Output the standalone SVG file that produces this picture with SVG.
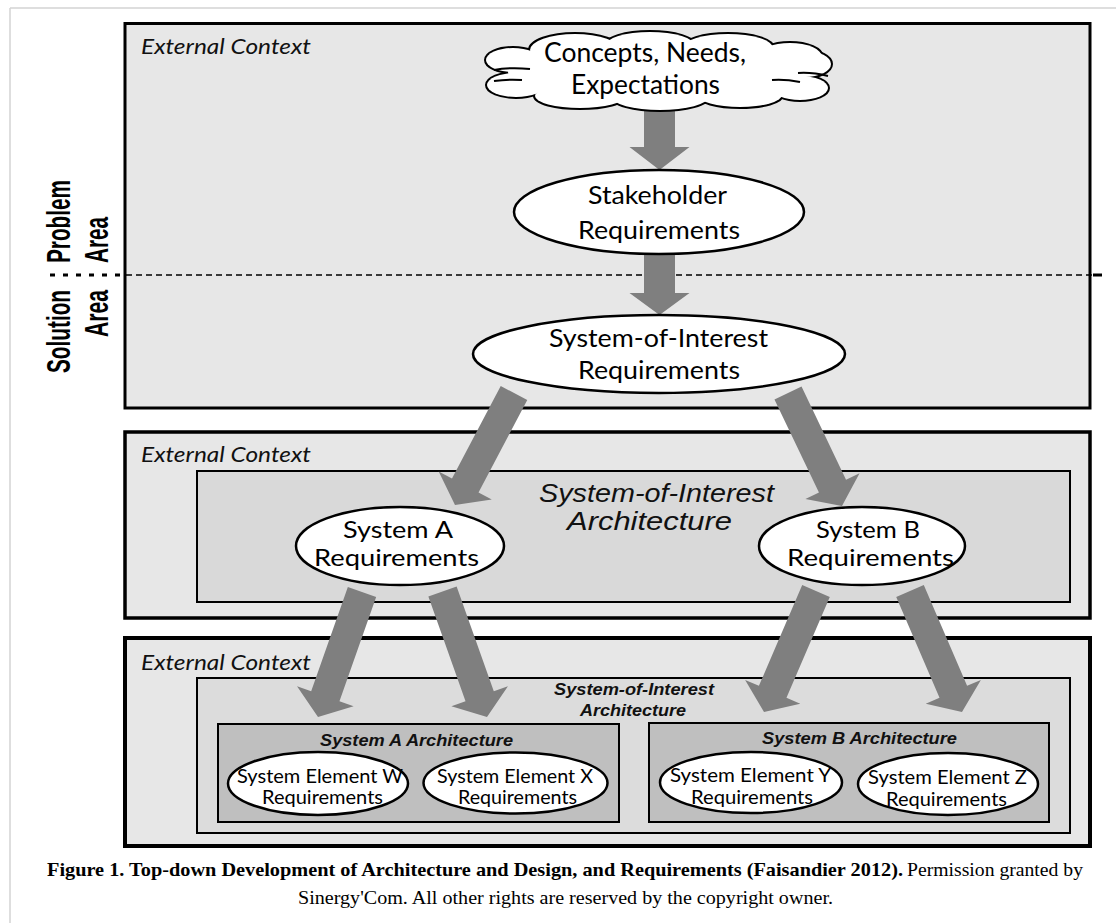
<svg xmlns="http://www.w3.org/2000/svg" width="1116" height="923" viewBox="0 0 1116 923">
<style>
.cal{font-family:Lato,"Open Sans","DejaVu Sans",sans-serif;fill:#000}
.ec{font-family:Lato,"Open Sans",sans-serif;font-style:italic;font-size:21px;fill:#111}
.ari{font-family:"Liberation Sans",Arial,sans-serif;font-style:italic;fill:#111}
.arbi{font-family:"Liberation Sans",Arial,sans-serif;font-style:italic;font-weight:bold;font-size:17px;fill:#111}
.lbl{font-family:"Liberation Sans",Arial,sans-serif;font-weight:bold;font-size:34px;fill:#000}
.cap{font-family:"Liberation Serif","Times New Roman",serif;font-size:19.5px;fill:#000}
.box{stroke:#000}
.ell{fill:#fff;stroke:#000;stroke-width:2.5}
.arr{fill:#7f7f7f;stroke:none}
</style>

<rect x="0" y="0" width="1116" height="923" fill="#fff"/>
<g id="page-frame" stroke="#d3d3d3" stroke-width="1.5" fill="none">
<line x1="10" y1="8" x2="1116" y2="8"/>
<line x1="10" y1="8" x2="10" y2="923"/>
</g>

<g id="context-top">
<rect class="box" x="125" y="23.5" width="965" height="384.5" fill="#e7e7e7" stroke-width="3"/>
<text class="ec" x="141" y="54" textLength="170" lengthAdjust="spacingAndGlyphs">External Context</text>
</g>

<g id="context-middle">
<rect class="box" x="125" y="432" width="965" height="186" fill="#e7e7e7" stroke-width="3.5"/>
<text class="ec" x="141" y="462" textLength="170" lengthAdjust="spacingAndGlyphs">External Context</text>
<rect class="box" x="197" y="471" width="873" height="131" fill="#d9d9d9" stroke-width="2"/>
<text class="ari" font-size="26" x="539" y="502" textLength="235" lengthAdjust="spacingAndGlyphs">System-of-Interest</text>
<text class="ari" font-size="26" x="567" y="530" textLength="165" lengthAdjust="spacingAndGlyphs">Architecture</text>
</g>

<g id="context-bottom">
<rect class="box" x="125" y="638" width="965" height="208" fill="#e7e7e7" stroke-width="4"/>
<text class="ec" x="141" y="670" textLength="170" lengthAdjust="spacingAndGlyphs">External Context</text>
<rect class="box" x="197" y="678" width="873" height="155" fill="#dcdcdc" stroke-width="2"/>
<text class="arbi" x="554" y="695" textLength="160" lengthAdjust="spacingAndGlyphs">System-of-Interest</text>
<text class="arbi" x="580" y="716" textLength="106" lengthAdjust="spacingAndGlyphs">Architecture</text>
</g>

<g id="system-a-architecture">
<rect class="box" x="218" y="724" width="401" height="98" fill="#bfbfbf" stroke-width="2"/>
<text class="arbi" x="320" y="746" textLength="193" lengthAdjust="spacingAndGlyphs">System A Architecture</text>
</g>
<g id="system-b-architecture">
<rect class="box" x="649" y="723" width="400" height="99" fill="#bfbfbf" stroke-width="2"/>
<text class="arbi" x="762" y="744" textLength="195" lengthAdjust="spacingAndGlyphs">System B Architecture</text>
</g>

<g id="area-divider">
<line x1="50" y1="275" x2="124" y2="275" stroke="#000" stroke-width="3" stroke-dasharray="5 8"/>
<line x1="126" y1="275" x2="1092" y2="275" stroke="#000" stroke-width="1.5" stroke-dasharray="6 4"/>
<line x1="1093" y1="275" x2="1102" y2="275" stroke="#000" stroke-width="3"/>
<text class="lbl" transform="translate(70,263) rotate(-90)" textLength="83" lengthAdjust="spacingAndGlyphs">Problem</text>
<text class="lbl" transform="translate(108,263) rotate(-90)" textLength="46" lengthAdjust="spacingAndGlyphs">Area</text>
<text class="lbl" transform="translate(70,373) rotate(-90)" textLength="83" lengthAdjust="spacingAndGlyphs">Solution</text>
<text class="lbl" transform="translate(108,337) rotate(-90)" textLength="47" lengthAdjust="spacingAndGlyphs">Area</text>
</g>

<g id="connectors">
<polygon class="arr" transform="translate(659.5,106)" points="-15.5,0 15.5,0 15.5,41 30,41 0,64 -30,41 -15.5,41"/>
<polygon class="arr" transform="translate(659.5,252)" points="-15.5,0 15.5,0 15.5,41 30,41 0,63 -30,41 -15.5,41"/>
<polygon class="arr" transform="translate(514,393) rotate(27.78)" points="-15,0 15,0 15,104.6 30,104.6 0,126.6 -30,104.6 -15,104.6"/>
<polygon class="arr" transform="translate(788,393) rotate(-25.54)" points="-15,0 15,0 15,103.2 30,103.2 0,125.2 -30,103.2 -15,103.2"/>
<polygon class="arr" transform="translate(362,592) rotate(19.39)" points="-15,0 15,0 15,110.5 30,110.5 0,132.5 -30,110.5 -15,110.5"/>
<polygon class="arr" transform="translate(442.5,591.5) rotate(-19.52)" points="-15,0 15,0 15,111.2 30,111.2 0,133.2 -30,111.2 -15,111.2"/>
<polygon class="arr" transform="translate(816,591) rotate(23.25)" points="-15,0 15,0 15,109.7 30,109.7 0,131.7 -30,109.7 -15,109.7"/>
<polygon class="arr" transform="translate(910,591) rotate(-23.25)" points="-15,0 15,0 15,109.7 30,109.7 0,131.7 -30,109.7 -15,109.7"/>
</g>

<g id="concepts-cloud">
<g stroke="#000" stroke-width="4" fill="#fff">
<ellipse cx="658" cy="72" rx="150" ry="31"/>
<ellipse cx="575" cy="50" rx="45" ry="16"/>
<ellipse cx="650" cy="46" rx="45" ry="14"/>
<ellipse cx="728" cy="48" rx="45" ry="14"/>
<ellipse cx="790" cy="57" rx="32" ry="14"/>
<ellipse cx="513" cy="60" rx="27" ry="12"/>
<ellipse cx="516" cy="85" rx="29" ry="12"/>
<ellipse cx="805" cy="64" rx="26" ry="13"/>
<ellipse cx="800" cy="88" rx="28" ry="12"/>
<ellipse cx="580" cy="96" rx="45" ry="12"/>
<ellipse cx="660" cy="97" rx="48" ry="13"/>
<ellipse cx="740" cy="95" rx="42" ry="12"/>
</g>
<g fill="#fff" stroke="none">
<ellipse cx="658" cy="72" rx="150" ry="31"/>
<ellipse cx="575" cy="50" rx="45" ry="16"/>
<ellipse cx="650" cy="46" rx="45" ry="14"/>
<ellipse cx="728" cy="48" rx="45" ry="14"/>
<ellipse cx="790" cy="57" rx="32" ry="14"/>
<ellipse cx="513" cy="60" rx="27" ry="12"/>
<ellipse cx="516" cy="85" rx="29" ry="12"/>
<ellipse cx="805" cy="64" rx="26" ry="13"/>
<ellipse cx="800" cy="88" rx="28" ry="12"/>
<ellipse cx="580" cy="96" rx="45" ry="12"/>
<ellipse cx="660" cy="97" rx="48" ry="13"/>
<ellipse cx="740" cy="95" rx="42" ry="12"/>
</g>
<g fill="none" stroke="#000" stroke-width="2">
<path d="M494,70 Q510,67 530,69"/>
<path d="M494,81 Q508,79 522,80"/>
<path d="M828,76 Q812,72 798,73"/>
<path d="M772,80 Q785,79 800,82"/>
</g>
<text class="cal" font-size="26" x="544" y="62" textLength="202" lengthAdjust="spacingAndGlyphs">Concepts, Needs,</text>
<text class="cal" font-size="26" x="571" y="94" textLength="149" lengthAdjust="spacingAndGlyphs">Expectations</text>
</g>

<g id="stakeholder-requirements">
<ellipse class="ell" cx="659" cy="212" rx="145" ry="42"/>
<text class="cal" font-size="25" x="588" y="204" textLength="139" lengthAdjust="spacingAndGlyphs">Stakeholder</text>
<text class="cal" font-size="25" x="578" y="239" textLength="162" lengthAdjust="spacingAndGlyphs">Requirements</text>
</g>

<g id="soi-requirements">
<ellipse class="ell" cx="659" cy="354" rx="186" ry="39"/>
<text class="cal" font-size="25" x="549" y="347" textLength="219" lengthAdjust="spacingAndGlyphs">System-of-Interest</text>
<text class="cal" font-size="25" x="578" y="379" textLength="162" lengthAdjust="spacingAndGlyphs">Requirements</text>
</g>

<g id="system-a-requirements">
<ellipse class="ell" cx="400" cy="546" rx="104" ry="39"/>
<text class="cal" font-size="24" x="343" y="538" textLength="110" lengthAdjust="spacingAndGlyphs">System A</text>
<text class="cal" font-size="24" x="314" y="566" textLength="165" lengthAdjust="spacingAndGlyphs">Requirements</text>
</g>

<g id="system-b-requirements">
<ellipse class="ell" cx="862" cy="546" rx="103" ry="39"/>
<text class="cal" font-size="24" x="816" y="538" textLength="104" lengthAdjust="spacingAndGlyphs">System B</text>
<text class="cal" font-size="24" x="787" y="566" textLength="167" lengthAdjust="spacingAndGlyphs">Requirements</text>
</g>

<g id="element-w">
<ellipse class="ell" cx="318" cy="783.5" rx="90" ry="31.5"/>
<text class="cal" font-size="19" x="237" y="783" textLength="166" lengthAdjust="spacingAndGlyphs">System Element W</text>
<text class="cal" font-size="19" x="262" y="804" textLength="121" lengthAdjust="spacingAndGlyphs">Requirements</text>
</g>
<g id="element-x">
<ellipse class="ell" cx="515.5" cy="783" rx="92" ry="30.5"/>
<text class="cal" font-size="19" x="437" y="783" textLength="156" lengthAdjust="spacingAndGlyphs">System Element X</text>
<text class="cal" font-size="19" x="458" y="804" textLength="119" lengthAdjust="spacingAndGlyphs">Requirements</text>
</g>
<g id="element-y">
<ellipse class="ell" cx="751" cy="782.5" rx="91" ry="30.5"/>
<text class="cal" font-size="19" x="670" y="782" textLength="161" lengthAdjust="spacingAndGlyphs">System Element Y</text>
<text class="cal" font-size="19" x="691" y="803.5" textLength="122" lengthAdjust="spacingAndGlyphs">Requirements</text>
</g>
<g id="element-z">
<ellipse class="ell" cx="948" cy="784" rx="90" ry="31"/>
<text class="cal" font-size="19" x="868" y="784" textLength="159" lengthAdjust="spacingAndGlyphs">System Element Z</text>
<text class="cal" font-size="19" x="886" y="805.5" textLength="121" lengthAdjust="spacingAndGlyphs">Requirements</text>
</g>

<g id="caption">
<text class="cap" font-weight="bold" x="47" y="876" textLength="856" lengthAdjust="spacingAndGlyphs">Figure 1. Top-down Development of Architecture and Design, and Requirements (Faisandier 2012).</text>
<text class="cap" x="907" y="876" textLength="176" lengthAdjust="spacingAndGlyphs">Permission granted by</text>
<text class="cap" x="298" y="904" textLength="535" lengthAdjust="spacingAndGlyphs">Sinergy'Com. All other rights are reserved by the copyright owner.</text>
</g>
</svg>
